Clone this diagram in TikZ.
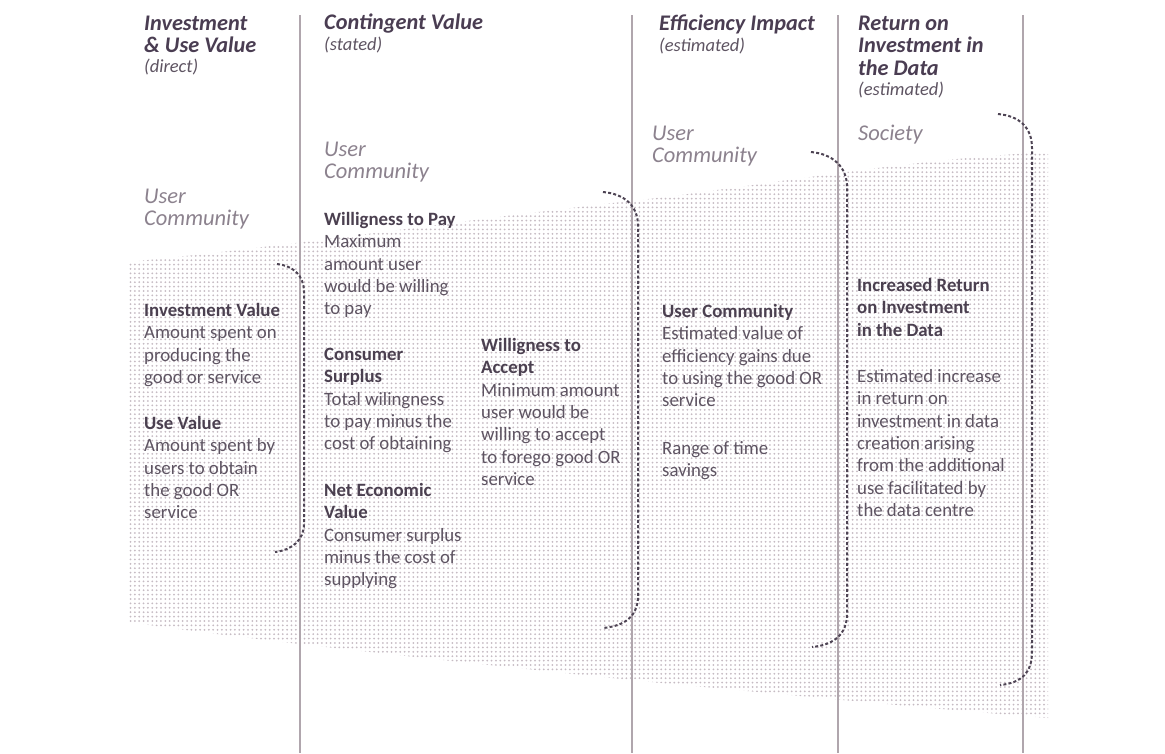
\documentclass[tikz,border=0pt]{standalone}
\usepackage{fontspec}
\setmainfont{Carlito}
\usetikzlibrary{patterns.meta}
\definecolor{hdr}{HTML}{4A3D52}
\definecolor{bdb}{HTML}{4B4050}
\definecolor{bdr}{HTML}{5E5462}
\definecolor{usrc}{HTML}{8C828E}
\definecolor{cline}{HTML}{B0A6AD}
\definecolor{dotc}{HTML}{C6BBC3}
\definecolor{brkc}{HTML}{4E4454}
\tikzdeclarepattern{name=bdots, type=uncolored,
  bottom left={(-1.2pt,-1.2pt)}, top right={(1.2pt,1.2pt)},
  tile size={(4.35pt,4.4pt)},
  code={\fill (0pt,0pt) circle [radius=1pt];}}
\newcommand\hs{\rule{0pt}{18pt}}
\newcommand\bt[1]{\textcolor{bdb}{\bfseries #1}}
\begin{document}
\begin{tikzpicture}[x=1pt,y=-1pt,
  hd/.style={anchor=north west, inner sep=0pt, text width=220pt, align=flush left, text=hdr, font=\fontsize{22.3}{22.4}\selectfont\bfseries\itshape},
  sub/.style={anchor=base west, inner sep=0pt, text=bdr, font=\fontsize{18.5}{22.4}\selectfont\itshape},
  usr/.style={anchor=north west, inner sep=0pt, text width=200pt, align=flush left, text=usrc, font=\fontsize{22.5}{22.6}\selectfont\itshape},
  bd/.style={anchor=north west, inner sep=0pt, text width=200pt, align=flush left, text=bdr, font=\fontsize{18.8}{22.4}\selectfont},
  colline/.style={draw=cline, line width=1.3pt},
  brkt/.style={draw=brkc, line width=2pt, dash pattern=on 3pt off 2.2pt},
]
\useasboundingbox[fill=white] (0,0) rectangle (1165,753);

% dotted band
\fill[pattern=bdots, pattern color=dotc]
  (128,262) .. controls (300,245) and (500,215) .. (640,200)
  .. controls (760,186) and (900,160) .. (1048,152)
  -- (1048,718)
  .. controls (900,706) and (760,692) .. (640,681)
  .. controls (460,662) and (250,640) .. (128,622) -- cycle;

% column lines
\coordinate (l1t) at (300,15); \coordinate (l1b) at (300,753);
\coordinate (l2t) at (632,15); \coordinate (l2b) at (632,753);
\coordinate (l3t) at (838,15); \coordinate (l3b) at (838,753);
\coordinate (l4t) at (1023,15); \coordinate (l4b) at (1023,753);
\draw[colline] (l1t) -- (l1b);
\draw[colline] (l2t) -- (l2b);
\draw[colline] (l3t) -- (l3b);
\draw[colline] (l4t) -- (l4b);

% dashed brackets
\coordinate (k1t) at (277,264); \coordinate (k1u) at (304,292);
\coordinate (k1d) at (304,524); \coordinate (k1b) at (275,552);
\draw[brkt] (k1t) .. controls +(17,2) and +(0,-16) .. (k1u) -- (k1d)
  .. controls +(0,16) and +(17,-2) .. (k1b);
\coordinate (k2t) at (603,192); \coordinate (k2u) at (638,226);
\coordinate (k2d) at (638,596); \coordinate (k2b) at (603,628);
\draw[brkt] (k2t) .. controls +(22,2) and +(0,-20) .. (k2u) -- (k2d)
  .. controls +(0,20) and +(22,-2) .. (k2b);
\coordinate (k3t) at (811,152); \coordinate (k3u) at (847,187);
\coordinate (k3d) at (847,614); \coordinate (k3b) at (812,647);
\draw[brkt] (k3t) .. controls +(22,2) and +(0,-20) .. (k3u) -- (k3d)
  .. controls +(0,20) and +(22,-2) .. (k3b);
\coordinate (k4t) at (998,114); \coordinate (k4u) at (1032,148);
\coordinate (k4d) at (1032,652); \coordinate (k4b) at (1000,685);
\draw[brkt] (k4t) .. controls +(22,2) and +(0,-20) .. (k4u) -- (k4d)
  .. controls +(0,20) and +(22,-2) .. (k4b);

% headers
\node[hd] (h1) at (144,12) {\hs Investment\\\& Use Value};
\node[sub] (h1s) at (144,72) {(direct)};
\node[hd] (h2) at (324,11) {\hs Contingent Value};
\node[sub] (h2s) at (324,50) {(stated)};
\node[hd] (h3) at (659,12) {\hs Efficiency Impact};
\node[sub] (h3s) at (659,51) {(estimated)};
\node[hd] (h4) at (858,12) {\hs Return on\\Investment in\\the Data};
\node[sub] (h4s) at (858,95) {(estimated)};

% user community labels
\node[usr] (u1) at (144,185) {\hs User\\Community};
\node[usr] (u2) at (324,138) {\hs User\\Community};
\node[usr] (u3) at (652,122) {\hs User\\Community};
\node[usr] (u4) at (858,122) {\hs Society};

% body texts
\node[bd] (b1a) at (144,298) {\hs\bt{Investment Value}\\Amount spent on\\producing the\\good or service};
\node[bd] (b1b) at (144,411) {\hs\bt{Use Value}\\Amount spent by\\users to obtain\\the good OR\\service};
\node[bd] (b2a) at (324,207) {\hs\bt{Willigness to Pay}\\Maximum\\amount user\\would be willing\\to pay};
\node[bd] (b2b) at (324,342) {\hs\bt{Consumer}\\\bt{Surplus}\\Total wilingness\\to pay minus the\\cost of obtaining};
\node[bd] (b2c) at (324,478) {\hs\bt{Net Economic}\\\bt{Value}\\Consumer surplus\\minus the cost of\\supplying};
\node[bd] (b2d) at (481,333) {\hs\bt{Willigness to}\\\bt{Accept}\\Minimum amount\\user would be\\willing to accept\\to forego good OR\\service};
\node[bd] (b3a) at (662,299) {\hs\bt{User Community}\\Estimated value of\\efficiency gains due\\to using the good OR\\service};
\node[bd] (b3b) at (662,436) {\hs Range of time\\savings};
\node[bd] (b4a) at (857,273) {\hs\bt{Increased Return}\\\bt{on Investment}\\\bt{in the Data}};
\node[bd] (b4b) at (857,364) {\hs Estimated increase\\in return on\\investment in data\\creation arising\\from the additional\\use facilitated by\\the data centre};
\end{tikzpicture}
\end{document}
